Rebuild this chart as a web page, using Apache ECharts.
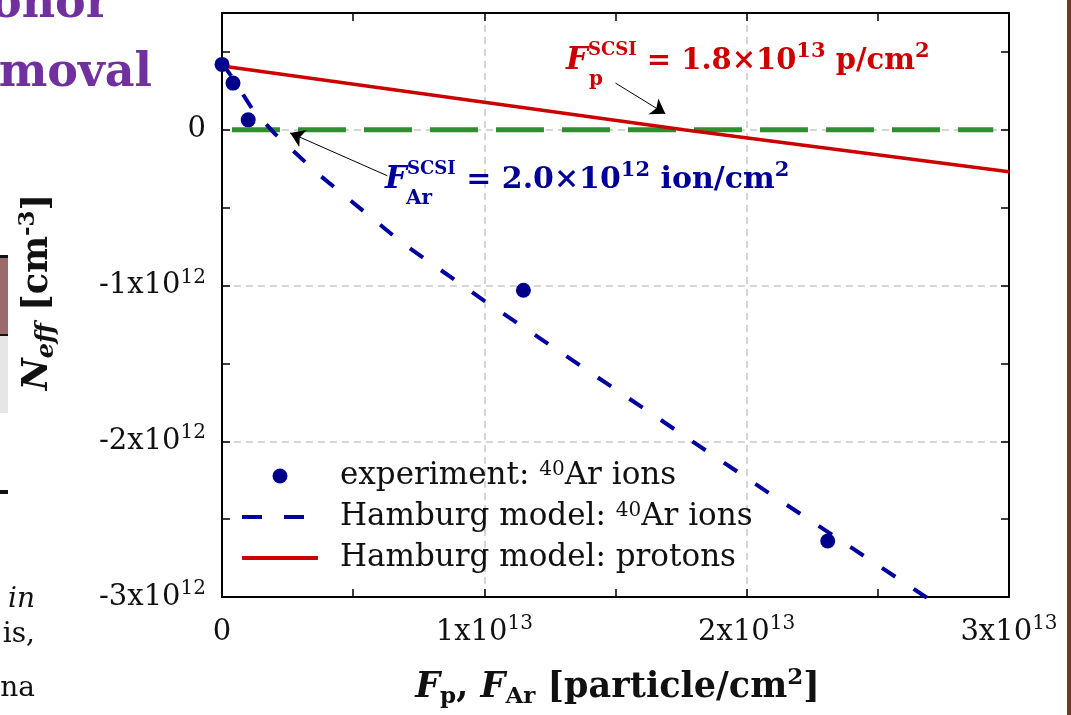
<!DOCTYPE html>
<html><head><meta charset="utf-8">
<script src="https://cdn.jsdelivr.net/npm/echarts@6/dist/echarts.min.js"></script>
<style>html,body{margin:0;padding:0;background:#fff}#c{width:1071px;height:715px}</style>
</head><body><div id="c"></div>
<script>
// ---------- data ----------
const expF = [0, 0.042e13, 0.1e13, 1.149e13, 2.309e13];
const expN = [0.42e12, 0.30e12, 0.064e12, -1.03e12, -2.64e12];

const arModelF = [0, 0.042e13, 0.115e13, 0.202e13, 0.366e13, 0.687e13, 1.0e13, 2.118e13, 2.309e13, 2.683e13, 3.0e13];
const arModelN = [0.43e12, 0.328e12, 0.135e12, -0.026e12, -0.283e12, -0.726e12, -1.098e12, -2.37e12, -2.582e12, -3.0e12, -3.35e12];

const pModelF = [0, 1.0e13, 1.76e13, 3.0e13];
const pModelN = [0.41e12, 0.177e12, 0, -0.27e12];

const zeroF = [0.038e13, 2.94e13];
const zeroN = [0, 0];

const xTickValues = [0, 1e13, 2e13, 3e13];
const xTickMant = ['0', '1x10', '2x10', '3x10'];
const xTickExp = ['', '13', '13', '13'];
const yTickValues = [-3e12, -2e12, -1e12, 0];
const yTickMant = ['-3x10', '-2x10', '-1x10', '0'];
const yTickExp = ['12', '12', '12', ''];

const legendNames = ['experiment: 40Ar ions', 'Hamburg model: 40Ar ions', 'Hamburg model: protons'];
const legendRich = ['experiment: {s|40}Ar ions', 'Hamburg model: {s|40}Ar ions', 'Hamburg model: protons'];

// arrows: [fromF, fromN, toF, toN]
const arrowP = [1.5e13, 0.30e12, 1.69e13, 0.103e12];
const arrowAr = [0.63e13, -0.295e12, 0.26e13, -0.02e12];

// ---------- chart ----------
const SERIF = '"DejaVu Serif", serif';
const pair = (xs, ys) => xs.map((x, i) => [x, ys[i]]);
function tickFmt(vals, mant, exps) {
  return function (v) {
    for (let i = 0; i < vals.length; i++) {
      if (Math.abs(v - vals[i]) < 1e6) {
        return exps[i] ? '{m|' + mant[i] + '}{s|' + exps[i] + '}' : '{m|' + mant[i] + '}';
      }
    }
    return '';
  };
}
const labelRich = {
  m: { fontFamily: SERIF, fontSize: 29, color: '#111', lineHeight: 36 },
  s: { fontFamily: SERIF, fontSize: 20, color: '#111', lineHeight: 21, verticalAlign: 'top' }
};
const axisLine = { show: true, onZero: false, lineStyle: { color: '#000', width: 2 } };
const tick = { show: true, inside: true, length: 8, lineStyle: { color: '#000', width: 1.5 } };
const gridColor = ['#c8c8c8', 'rgba(0,0,0,0)'];
const split = { show: true, lineStyle: { color: gridColor, width: 1.5, type: [7, 5] } };
const noSym = { color: 'rgba(0,0,0,0)', borderWidth: 0, opacity: 0 };

const chart = echarts.init(document.getElementById('c'));
chart.setOption({
  animation: false,
  backgroundColor: '#fff',
  grid: { left: 222, right: 62, top: 13, bottom: 118, outerBoundsMode: 'none', containLabel: false },
  xAxis: [{
    type: 'value', min: 0, max: 3e13, interval: 0.5e13, position: 'bottom',
    axisLine: axisLine, axisTick: tick, splitLine: split,
    axisLabel: { formatter: tickFmt(xTickValues, xTickMant, xTickExp), margin: 17, rich: labelRich },
    name: '{fi|F}{sub|p}{b|, }{fi|F}{sub|Ar}{b| [particle/cm}{sup|2}{b|]}',
    nameLocation: 'middle', nameGap: 70,
    nameTextStyle: {
      padding: [0, 0, 0, 4],
      rich: {
        fi: { fontFamily: SERIF, fontSize: 35, fontWeight: 'bold', fontStyle: 'italic', color: '#111', lineHeight: 42 },
        b: { fontFamily: SERIF, fontSize: 35, fontWeight: 'bold', color: '#111', lineHeight: 42 },
        sub: { fontFamily: SERIF, fontSize: 23, fontWeight: 'bold', color: '#111', lineHeight: 22, verticalAlign: 'bottom' },
        sup: { fontFamily: SERIF, fontSize: 23, fontWeight: 'bold', color: '#111', lineHeight: 22, verticalAlign: 'top' }
      }
    }
  }, {
    type: 'value', min: 0, max: 3e13, interval: 0.5e13, position: 'top',
    axisLine: axisLine, axisTick: tick, splitLine: { show: false }, axisLabel: { show: false }
  }],
  yAxis: [{
    type: 'value', min: -3e12, max: 0.75e12, interval: 0.5e12, position: 'left',
    axisLine: axisLine, axisTick: tick, splitLine: split,
    axisLabel: { formatter: tickFmt(yTickValues, yTickMant, yTickExp), margin: 16, rich: labelRich },
    name: '{fi|N}{sub|eff}{b| [cm}{sup|-3}{b|]}',
    nameLocation: 'middle', nameGap: 163, nameRotate: 90,
    nameTextStyle: {
      padding: [0, 0, 0, 26],
      rich: {
        fi: { fontFamily: SERIF, fontSize: 35, fontWeight: 'bold', fontStyle: 'italic', color: '#111', lineHeight: 42 },
        b: { fontFamily: SERIF, fontSize: 35, fontWeight: 'bold', color: '#111', lineHeight: 42 },
        sub: { fontFamily: SERIF, fontSize: 24, fontWeight: 'bold', fontStyle: 'italic', color: '#111', lineHeight: 24, verticalAlign: 'bottom' },
        sup: { fontFamily: SERIF, fontSize: 23, fontWeight: 'bold', color: '#111', lineHeight: 24, verticalAlign: 'top' }
      }
    }
  }, {
    type: 'value', min: -3e12, max: 0.75e12, interval: 0.5e12, position: 'right',
    axisLine: axisLine, axisTick: tick, splitLine: { show: false }, axisLabel: { show: false }
  }],
  legend: {
    orient: 'vertical', left: 235, top: 455, itemWidth: 76, itemHeight: 15, itemGap: 9,
    selectedMode: false,
    data: [
      { name: legendNames[0] },
      { name: legendNames[1], itemStyle: noSym, lineStyle: { width: 4, type: [20, 22] } },
      { name: legendNames[2], itemStyle: noSym, lineStyle: { width: 4 } }
    ],
    formatter: function (name) { return legendRich[legendNames.indexOf(name)]; },
    textStyle: {
      fontFamily: SERIF, fontSize: 31, color: '#111', padding: [0, 0, 0, 17], lineHeight: 32,
      rich: {
        s: { fontFamily: SERIF, fontSize: 20, color: '#111', lineHeight: 20, verticalAlign: 'top' }
      }
    }
  },
  series: [{
    type: 'line', name: 'zero', data: pair(zeroF, zeroN), symbol: 'none', z: 2,
    lineStyle: { color: '#2f8f2f', width: 5, type: [48, 18] },
    markLine: {
      silent: true, symbol: ['none', 'arrow'], symbolSize: 14, animation: false,
      label: { show: false },
      lineStyle: { color: '#000', width: 1, type: 'solid' },
      data: [
        [{ coord: [arrowP[0], arrowP[1]] }, { coord: [arrowP[2], arrowP[3]] }],
        [{ coord: [arrowAr[0], arrowAr[1]] }, { coord: [arrowAr[2], arrowAr[3]] }]
      ]
    }
  }, {
    type: 'line', name: legendNames[2], data: pair(pModelF, pModelN), symbol: 'none', z: 3,
    lineStyle: { color: '#cc0000', width: 3.5 }, itemStyle: { color: '#cc0000' }
  }, {
    type: 'line', name: legendNames[1], data: pair(arModelF, arModelN), symbol: 'none', z: 4,
    lineStyle: { color: '#0000a0', width: 4, type: [16, 22] }, itemStyle: { color: '#0000a0' }
  }, {
    type: 'scatter', name: legendNames[0], data: pair(expF, expN), symbol: 'circle', symbolSize: 15, z: 5,
    itemStyle: { color: '#00008b', opacity: 1 }
  }],
  graphic: [
    { type: 'text', x: 110, y: -18, style: { text: 'Donor', font: 'bold 46px ' + SERIF, fill: '#7030a0', align: 'right' } },
    { type: 'text', x: 152, y: 51, style: { text: 'removal', font: 'bold 46px ' + SERIF, fill: '#7030a0', align: 'right' } },
    { type: 'rect', shape: { x: 0, y: 256, width: 8, height: 79 }, style: { fill: '#9b6a6a' } },
    { type: 'rect', shape: { x: 0, y: 255, width: 8, height: 3 }, style: { fill: '#111' } },
    { type: 'rect', shape: { x: 0, y: 334, width: 8, height: 2 }, style: { fill: '#111' } },
    { type: 'rect', shape: { x: 0, y: 336, width: 8, height: 77 }, style: { fill: '#e6e6e6' } },
    { type: 'rect', shape: { x: 0, y: 490, width: 8, height: 4 }, style: { fill: '#111' } },
    { type: 'rect', shape: { x: 1067, y: 0, width: 4, height: 715 }, style: { fill: '#6a3b2a' } },
    { type: 'text', x: 35, y: 586, style: { text: 'in', font: 'italic 28px ' + SERIF, fill: '#111', align: 'right' } },
    { type: 'text', x: 35, y: 621, style: { text: 'is,', font: '28px ' + SERIF, fill: '#111', align: 'right' } },
    { type: 'text', x: 35, y: 675, style: { text: 'na', font: '28px ' + SERIF, fill: '#111', align: 'right' } },
    { type: 'text', x: 566, y: 41, z: 10, style: {
      text: '{fi|F}{sup|SCSI}{b| = 1.8×10}{sup2|13}{b| p/cm}{sup2|2}',
      fill: '#cc0000',
      rich: {
        fi: { font: 'bold italic 31px ' + SERIF, fill: '#cc0000', lineHeight: 40 },
        b: { font: 'bold 29px ' + SERIF, fill: '#cc0000', lineHeight: 40 },
        sup: { font: 'bold 18px ' + SERIF, fill: '#cc0000', lineHeight: 22, verticalAlign: 'top' },
        sup2: { font: 'bold 21px ' + SERIF, fill: '#cc0000', lineHeight: 22, verticalAlign: 'top' }
      }
    } },
    { type: 'text', x: 589, y: 70, z: 10, style: { text: 'p', font: 'bold 20px ' + SERIF, fill: '#cc0000' } },
    { type: 'text', x: 385, y: 160, z: 10, style: {
      text: '{fi|F}{sup|SCSI}{b| = 2.0×10}{sup2|12}{b| ion/cm}{sup2|2}',
      fill: '#000099',
      rich: {
        fi: { font: 'bold italic 31px ' + SERIF, fill: '#000099', lineHeight: 40 },
        b: { font: 'bold 30px ' + SERIF, fill: '#000099', lineHeight: 40 },
        sup: { font: 'bold 18px ' + SERIF, fill: '#000099', lineHeight: 22, verticalAlign: 'top' },
        sup2: { font: 'bold 21px ' + SERIF, fill: '#000099', lineHeight: 22, verticalAlign: 'top' }
      }
    } },
    { type: 'text', x: 406, y: 189, z: 10, style: { text: 'Ar', font: 'bold 20px ' + SERIF, fill: '#000099' } }
  ]
});
</script>
</body></html>
